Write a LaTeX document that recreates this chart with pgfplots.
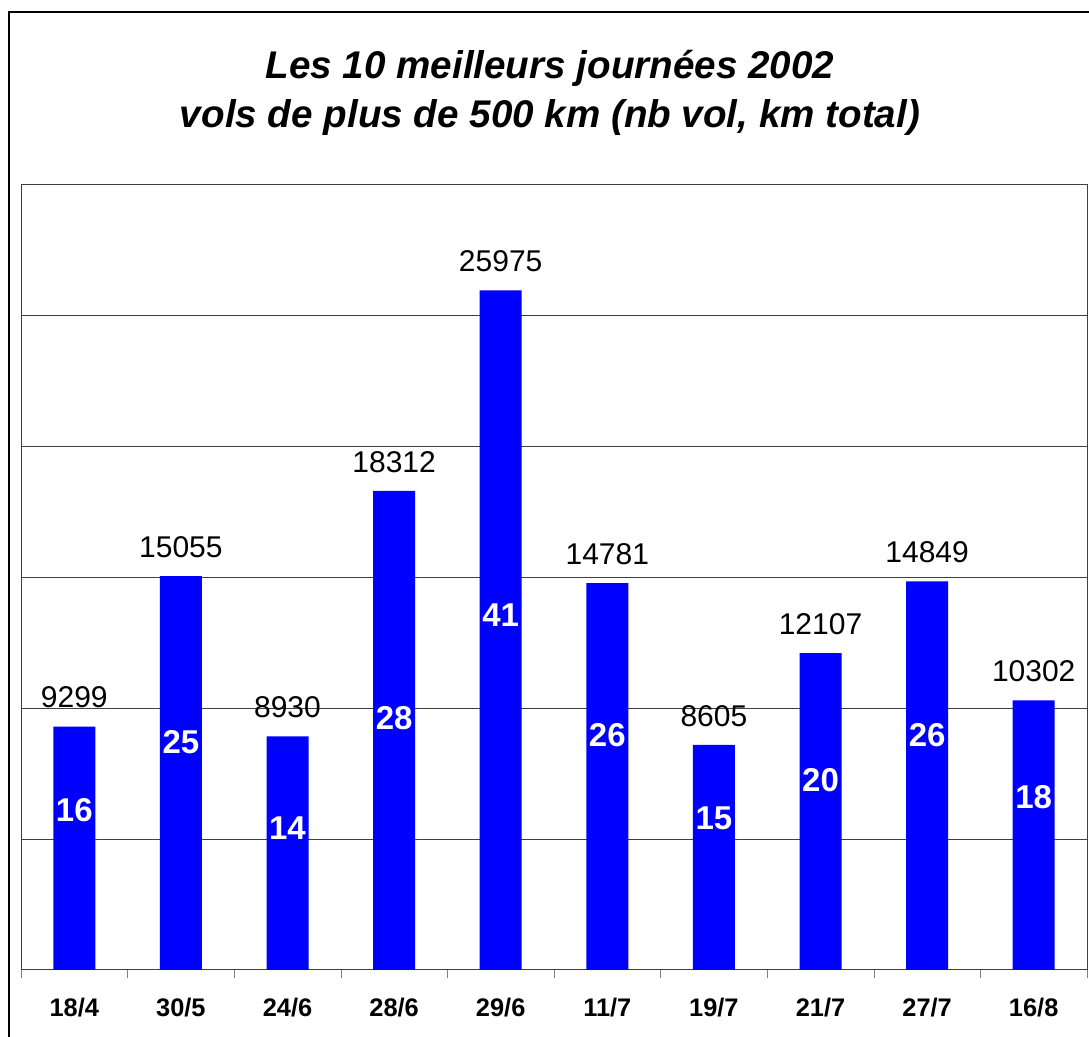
\documentclass[border=0pt]{standalone}
\usepackage{fontspec}
\setmainfont{Liberation Sans}
\usepackage{pgfplots}
\pgfplotsset{compat=1.18}
\usepackage{pgfplotstable}

\pgfplotstableread{
x y lab
0 9299 9299
1 15055 15055
2 8930 8930
3 18312 18312
4 25975 25975
5 14781 14781
6 8605 8605
7 12107 12107
8 14849 14849
9 10302 10302
}\kmdata

\pgfplotstableread{
x y lab
0 6096 16
1 8695 25
2 5427 14
3 9631 28
4 13567 41
5 8981 26
6 5809 15
7 7261 20
8 8981 26
9 6612 18
}\nbdata

\begin{document}
\begin{tikzpicture}[x=1pt,y=1pt]
\useasboundingbox (0,0) rectangle (544.5,518.5);
\clip (0,0) rectangle (544.5,518.5);
\draw[black, line width=0.6pt] (4.5,-20) rectangle (600,512.5);
\node[anchor=base, font=\bfseries\itshape\fontsize{19.3}{19.3}\selectfont] at (275,479) {Les 10 meilleurs journées 2002};
\node[anchor=base, font=\bfseries\itshape\fontsize{19.3}{19.3}\selectfont] at (275,454.5) {vols de plus de 500 km (nb vol, km total)};
\begin{axis}[
  at={(10.5pt,33.5pt)}, anchor=south west,
  width=533pt, height=392.5pt, scale only axis,
  xmin=-0.5, xmax=9.5, ymin=0, ymax=30000,
  scaled y ticks=false,
  xtick pos=lower,
  xtick={-0.5,0.5,...,9.5}, xticklabels={},
  tick align=outside, major tick length=4pt,
  extra x ticks={0,1,2,3,4,5,6,7,8,9},
  extra x tick labels={18/4,30/5,24/6,28/6,29/6,11/7,19/7,21/7,27/7,16/8},
  extra x tick style={major tick length=0pt, xticklabel style={anchor=base, yshift=-23.5pt, inner sep=0pt, font=\bfseries\fontsize{12.7}{12.7}\selectfont}},
  ytick={0,5000,...,30000}, yticklabels={},
  ytick style={draw=none},
  ymajorgrids, grid style={black!75, line width=0.5pt},
  axis line style={black!75, line width=0.5pt},
  clip=false,
]
\addplot[ybar, bar width=21pt, fill=blue, draw=none,
  nodes near coords, point meta=explicit symbolic,
  every node near coord/.append style={anchor=south, inner sep=0pt, yshift=9pt, text=black, font=\fontsize{15}{15}\selectfont}]
  table[x=x, y=y, meta=lab] {\kmdata};
\addplot[draw=none, mark=none,
  nodes near coords, point meta=explicit symbolic,
  every node near coord/.append style={anchor=center, inner sep=0pt, text=white, font=\bfseries\fontsize{16.5}{16.5}\selectfont}]
  table[x=x, y=y, meta=lab] {\nbdata};
\end{axis}
\end{tikzpicture}
\end{document}
